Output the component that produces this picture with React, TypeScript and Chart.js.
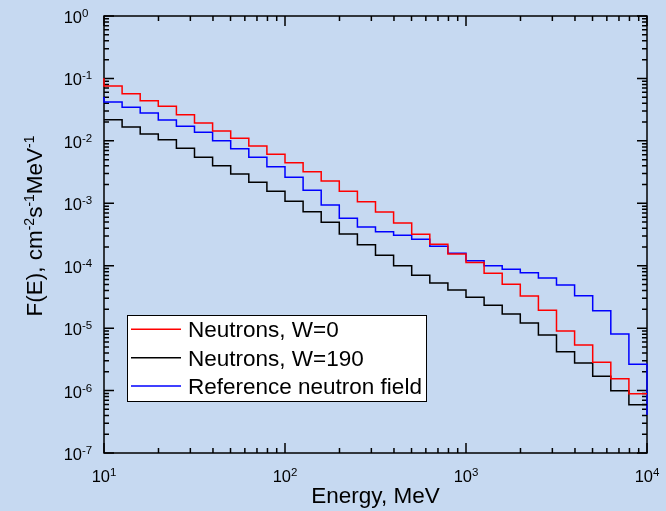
import React, { useEffect, useRef } from "react";
import { Chart, registerables } from "chart.js";

Chart.register(...registerables);

// Bin edges (MeV), 10 log-spaced bins per decade; first bin lies below 10 MeV (clipped)
const binEdges: number[] = [
  7.943, 10, 12.59, 15.85, 19.95, 25.12, 31.62, 39.81, 50.12, 63.10, 79.43,
  100, 125.9, 158.5, 199.5, 251.2, 316.2, 398.1, 501.2, 631.0, 794.3,
  1000, 1259, 1585, 1995, 2512, 3162, 3981, 5012, 6310, 7943, 10000, 12589,
];

// F(E), cm^-2 s^-1 MeV^-1, one value per bin (bin starting at binEdges[i])
const neutronsW0: (number | null)[] = [
  0.098, 0.0756, 0.0569, 0.044, 0.0358, 0.0262, 0.0193, 0.0144, 0.011, 0.00827,
  0.00609, 0.00445, 0.00321, 0.00228, 0.00156, 0.00106, 7.25e-4, 4.83e-4, 3.19e-4,
  2.2e-4, 1.54e-4, 1.13e-4, 7.56e-5, 5.04e-5, 3.27e-5, 1.93e-5, 9.0e-6, 5.37e-6,
  2.84e-6, 1.55e-6, 8.9e-7, null,
];
const neutronsW190: (number | null)[] = [
  null, 0.0218, 0.0167, 0.0129, 0.01044, 0.0076, 0.00545, 0.004, 0.00294, 0.00217,
  0.00156, 0.00108, 7.33e-4, 4.96e-4, 3.22e-4, 2.17e-4, 1.47e-4, 1.0e-4, 7.02e-5,
  5.29e-5, 4.08e-5, 3.12e-5, 2.32e-5, 1.69e-5, 1.21e-5, 7.77e-6, 4.2e-6, 2.77e-6,
  1.69e-6, 9.95e-7, 5.94e-7, null,
];
const referenceField: (number | null)[] = [
  0.0491, 0.0419, 0.0345, 0.0279, 0.0216, 0.0171, 0.0137, 0.01006, 0.00749, 0.00545,
  0.00386, 0.00262, 0.00161, 9.39e-4, 5.75e-4, 4.17e-4, 3.51e-4, 3.07e-4, 2.65e-4,
  2.05e-4, 1.58e-4, 1.2e-4, 1.0e-4, 8.76e-5, 7.73e-5, 6.36e-5, 4.91e-5, 3.31e-5,
  1.9e-5, 8.06e-6, 2.64e-6, 4.06e-7,
];

const seriesLabels = ["Neutrons, W=0", "Neutrons, W=190", "Reference neutron field"];
const seriesColors = ["#ff0000", "#000000", "#0000ff"];

const xTickExponents = [1, 2, 3, 4];
const yTickExponents = [0, -1, -2, -3, -4, -5, -6, -7];
const xTitle = "Energy, MeV";
const yTitleParts: [string, boolean][] = [
  ["F(E), cm", false], ["-2", true], ["s", false], ["-1", true], ["MeV", false], ["-1", true],
];

const BG = "#c6d9f1";
const FONT = "'Liberation Sans', Arial, Helvetica, sans-serif";

// one point per bin at its left edge, plus a closing point at the last right edge
function toSteps(values: (number | null)[]) {
  const pts: { x: number; y: number }[] = [];
  let last = -1;
  values.forEach((v, i) => {
    if (v !== null) {
      pts.push({ x: binEdges[i], y: v });
      last = i;
    }
  });
  if (last >= 0) pts.push({ x: binEdges[last + 1], y: values[last] as number });
  return pts;
}

const framePlugin = {
  id: "frameAndLabels",
  beforeDraw(chart: any) {
    const { ctx, width, height } = chart;
    ctx.save();
    ctx.fillStyle = BG;
    ctx.fillRect(0, 0, width, height);
    ctx.restore();
  },
  beforeDatasetsDraw(chart: any) {
    const { ctx, chartArea: a, scales } = chart;
    const xs = scales.x;
    const ys = scales.y;
    ctx.save();
    ctx.strokeStyle = "#000";
    ctx.lineWidth = 1.5;
    ctx.strokeRect(a.left, a.top, a.right - a.left, a.bottom - a.top);
    ctx.beginPath();
    for (let d = 1; d <= 4; d++) {
      for (let m = 1; m <= 9; m++) {
        const v = m * Math.pow(10, d);
        if (v < 10 || v > 10000) continue;
        const px = xs.getPixelForValue(v);
        const len = m === 1 ? 10 : 5;
        ctx.moveTo(px, a.bottom);
        ctx.lineTo(px, a.bottom - len);
        ctx.moveTo(px, a.top);
        ctx.lineTo(px, a.top + len);
      }
    }
    for (let d = -7; d <= 0; d++) {
      for (let m = 1; m <= 9; m++) {
        const v = m * Math.pow(10, d);
        if (v < 1e-7 * 0.999 || v > 1.0001) continue;
        const py = ys.getPixelForValue(v);
        const len = m === 1 ? 10 : 5;
        ctx.moveTo(a.left, py);
        ctx.lineTo(a.left + len, py);
        ctx.moveTo(a.right, py);
        ctx.lineTo(a.right - len, py);
      }
    }
    ctx.stroke();

    ctx.fillStyle = "#000";
    const mainF = `16.5px ${FONT}`;
    const supF = `11.5px ${FONT}`;
    ctx.textBaseline = "alphabetic";
    xTickExponents.forEach((e) => {
      const px = xs.getPixelForValue(Math.pow(10, e));
      ctx.font = mainF;
      const w1 = ctx.measureText("10").width;
      ctx.font = supF;
      const w2 = ctx.measureText(String(e)).width;
      const x0 = px - (w1 + w2) / 2;
      ctx.textAlign = "left";
      ctx.font = mainF;
      ctx.fillText("10", x0, a.bottom + 29);
      ctx.font = supF;
      ctx.fillText(String(e), x0 + w1, a.bottom + 23);
    });
    yTickExponents.forEach((e) => {
      const py = ys.getPixelForValue(Math.pow(10, e));
      ctx.textAlign = "right";
      ctx.font = mainF;
      ctx.fillText("10", 82, py + 7);
      ctx.textAlign = "left";
      ctx.font = supF;
      ctx.fillText(String(e), 82, py + 1);
    });

    ctx.font = `22.5px ${FONT}`;
    ctx.textAlign = "center";
    ctx.fillText(xTitle, (a.left + a.right) / 2, 503);

    const tMain = `22.5px ${FONT}`;
    const tSup = `14px ${FONT}`;
    let total = 0;
    yTitleParts.forEach(([t, sup]) => {
      ctx.font = sup ? tSup : tMain;
      total += ctx.measureText(t).width;
    });
    ctx.translate(41.5, 226);
    ctx.rotate(-Math.PI / 2);
    ctx.textAlign = "left";
    let cx = -total / 2;
    yTitleParts.forEach(([t, sup]) => {
      ctx.font = sup ? tSup : tMain;
      ctx.fillText(t, cx, sup ? -7.5 : 0);
      cx += ctx.measureText(t).width;
    });
    ctx.restore();
  },
  afterDatasetsDraw(chart: any) {
    const { ctx } = chart;
    ctx.save();
    ctx.fillStyle = "#ffffff";
    ctx.fillRect(127.5, 315.5, 299, 86);
    ctx.strokeStyle = "#000";
    ctx.lineWidth = 1;
    ctx.strokeRect(127.5, 315.5, 299, 86);
    const rows = [329.3, 357.7, 386];
    ctx.font = `22.5px ${FONT}`;
    ctx.textAlign = "left";
    ctx.textBaseline = "alphabetic";
    seriesLabels.forEach((lab, i) => {
      ctx.strokeStyle = seriesColors[i];
      ctx.lineWidth = 1.5;
      ctx.beginPath();
      ctx.moveTo(131, rows[i]);
      ctx.lineTo(181, rows[i]);
      ctx.stroke();
      ctx.fillStyle = "#000";
      ctx.fillText(lab, 188, rows[i] + 8);
    });
    ctx.restore();
  },
};

export default function App() {
  const ref = useRef<HTMLCanvasElement | null>(null);
  useEffect(() => {
    document.body.style.margin = "0";
    document.body.style.background = BG;
    if (!ref.current) return;
    const allSeries = [neutronsW0, neutronsW190, referenceField];
    const chart = new Chart(ref.current, {
      type: "line",
      data: {
        datasets: allSeries.map((s, i) => ({
          label: seriesLabels[i],
          data: toSteps(s),
          borderColor: seriesColors[i],
          backgroundColor: seriesColors[i],
          borderWidth: 1.5,
          stepped: "before" as const,
          pointRadius: 0,
          fill: false,
          clip: 1,
        })),
      },
      options: {
        responsive: false,
        devicePixelRatio: 1,
        animation: false,
        layout: { padding: { left: 104, right: 19, top: 16, bottom: 58 } },
        scales: {
          x: { type: "logarithmic", min: 10, max: 10000, display: false },
          y: { type: "logarithmic", min: 1e-7, max: 1, display: false },
        },
        plugins: { legend: { display: false }, tooltip: { enabled: false } },
      },
      plugins: [framePlugin],
    } as any);
    return () => chart.destroy();
  }, []);
  return (
    <div style={{ width: 666, height: 511, background: BG }}>
      <canvas ref={ref} width={666} height={511} style={{ display: "block" }} />
    </div>
  );
}
